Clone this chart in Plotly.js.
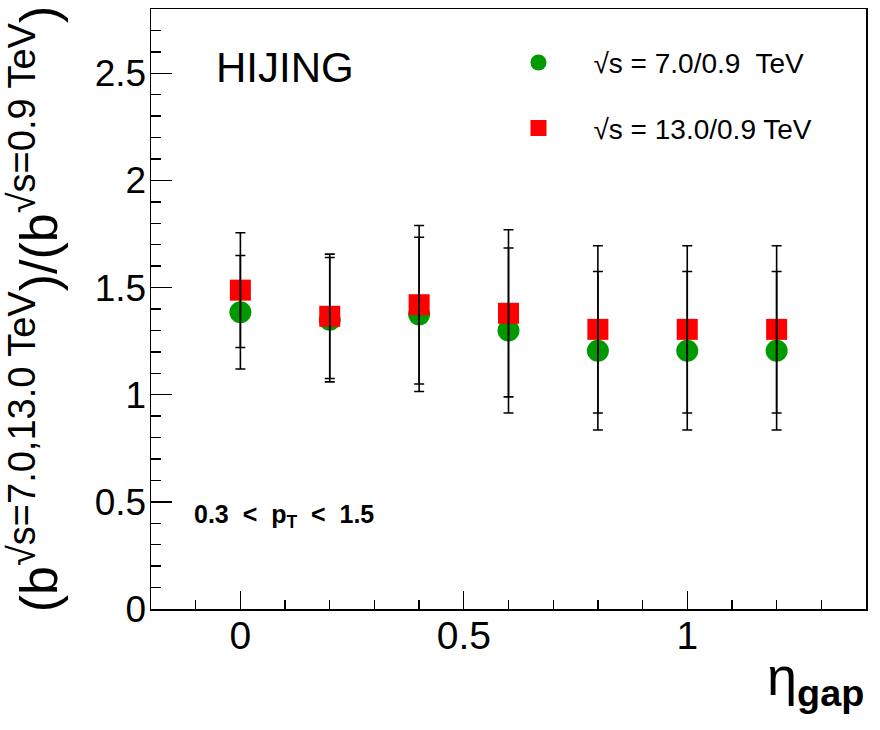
<!DOCTYPE html>
<html>
<head>
<meta charset="utf-8">
<script src="https://cdn.plot.ly/plotly-3.0.1.min.js"></script>
<style>html,body{margin:0;padding:0;background:#fff;}#plot{width:880px;height:730px;}</style>
</head>
<body>
<div id="plot"></div>
<script>
// eta_gap positions
var etaGap = [0, 0.2, 0.4, 0.6, 0.8, 1.0, 1.2];
// ratio sqrt(s)=7.0/0.9 TeV
var ratio7 = [1.385, 1.35, 1.375, 1.30, 1.205, 1.205, 1.205];
var err7 = [0.265, 0.29, 0.36, 0.385, 0.37, 0.37, 0.37];
// ratio sqrt(s)=13.0/0.9 TeV
var ratio13 = [1.488, 1.366, 1.42, 1.38, 1.305, 1.305, 1.305];
var err13 = [0.268, 0.29, 0.37, 0.39, 0.39, 0.39, 0.39];
var legendNames = ['\u221As = 7.0/0.9  TeV', '\u221As = 13.0/0.9 TeV'];
var xTickVals = [0, 0.5, 1];
var xTickText = ['0', '0.5', '1'];
var yTickVals = [0, 0.5, 1, 1.5, 2, 2.5];
var yTickText = ['0', '0.5', '1', '1.5', '2', '2.5'];

var F = 'Liberation Sans, Arial, Helvetica, sans-serif';
var SUP = '<sup><span style="font-size:38px">';
var SUPEND = '</span></sup>';

var traces = [
  {x: etaGap, y: ratio7, type: 'scatter', mode: 'markers', name: legendNames[0],
   legendgroup: 'a',
   marker: {symbol: 'circle', size: 22, color: '#009900'}},
  {x: etaGap, y: ratio13, type: 'scatter', mode: 'markers', name: legendNames[1],
   legendgroup: 'b',
   marker: {symbol: 'square', size: 21, color: '#ff0000'}},
  {x: etaGap, y: ratio7, type: 'scatter', mode: 'markers', showlegend: false, hoverinfo: 'skip',
   marker: {size: 1, color: 'rgba(0,0,0,0)'},
   error_y: {type: 'data', array: err7, visible: true, color: '#000', thickness: 1.6, width: 5}},
  {x: etaGap, y: ratio13, type: 'scatter', mode: 'markers', showlegend: false, hoverinfo: 'skip',
   marker: {size: 1, color: 'rgba(0,0,0,0)'},
   error_y: {type: 'data', array: err13, visible: true, color: '#000', thickness: 1.6, width: 5}}
];

var layout = {
  width: 880, height: 730,
  margin: {l: 151, r: 14, t: 9, b: 121},
  paper_bgcolor: '#fff', plot_bgcolor: '#fff',
  font: {family: F, color: '#000'},
  showlegend: true,
  legend: {x: 0.465, y: 0.952, xanchor: 'left', yanchor: 'top',
           font: {family: F, size: 28, color: '#000'},
           bgcolor: 'rgba(0,0,0,0)', borderwidth: 0,
           traceorder: 'grouped', tracegroupgap: 26, itemwidth: 100},
  xaxis: {range: [-0.2, 1.4], showgrid: false, zeroline: false,
          showline: true, mirror: true, linecolor: '#000', linewidth: 1.5,
          ticks: 'inside', ticklen: 18, tickwidth: 1.3, tickcolor: '#000',
          tickvals: xTickVals, ticktext: xTickText, ticklabelstandoff: -8,
          tickfont: {family: F, size: 39, color: '#000'},
          minor: {dtick: 0.1, ticks: 'inside', ticklen: 9, tickwidth: 1.3, tickcolor: '#000', showgrid: false}},
  yaxis: {range: [0, 2.8], showgrid: false, zeroline: false,
          showline: true, mirror: true, linecolor: '#000', linewidth: 1.5,
          ticks: 'inside', ticklen: 21, tickwidth: 1.3, tickcolor: '#000',
          tickvals: yTickVals, ticktext: yTickText, ticklabelstandoff: -4,
          tickfont: {family: F, size: 37, color: '#000'},
          minor: {dtick: 0.1, ticks: 'inside', ticklen: 10, tickwidth: 1.3, tickcolor: '#000', showgrid: false},
          title: {text: '(b' + SUP + '\u221As=7.0,13.0 TeV' + SUPEND + ')/(b' + SUP + '\u221As=0.9 TeV' + SUPEND + ')',
                  font: {family: F, size: 52, color: '#000'}, standoff: 20}},
  annotations: [
    {xref: 'paper', yref: 'paper', x: 0.088, y: 0.903, xanchor: 'left', yanchor: 'middle',
     text: 'HIJING', showarrow: false, font: {family: F, size: 42, color: '#000'}},
    {xref: 'paper', yref: 'paper', x: 0.057, y: 0.155, xanchor: 'left', yanchor: 'middle',
     text: '<b>0.3\u00A0\u00A0&lt;\u00A0\u00A0p<sub>T</sub>\u00A0\u00A0&lt;\u00A0\u00A01.5</b>', showarrow: false,
     font: {family: F, size: 25, color: '#000'}},
    {xref: 'paper', yref: 'paper', x: 1.0, y: -0.178, xanchor: 'right', yanchor: 'bottom',
     text: '\u03B7<sub><b>gap</b></sub>', showarrow: false, font: {family: F, size: 54, color: '#000'}}
  ]
};

Plotly.newPlot('plot', traces, layout, {displayModeBar: false, staticPlot: true});
</script>
</body>
</html>
